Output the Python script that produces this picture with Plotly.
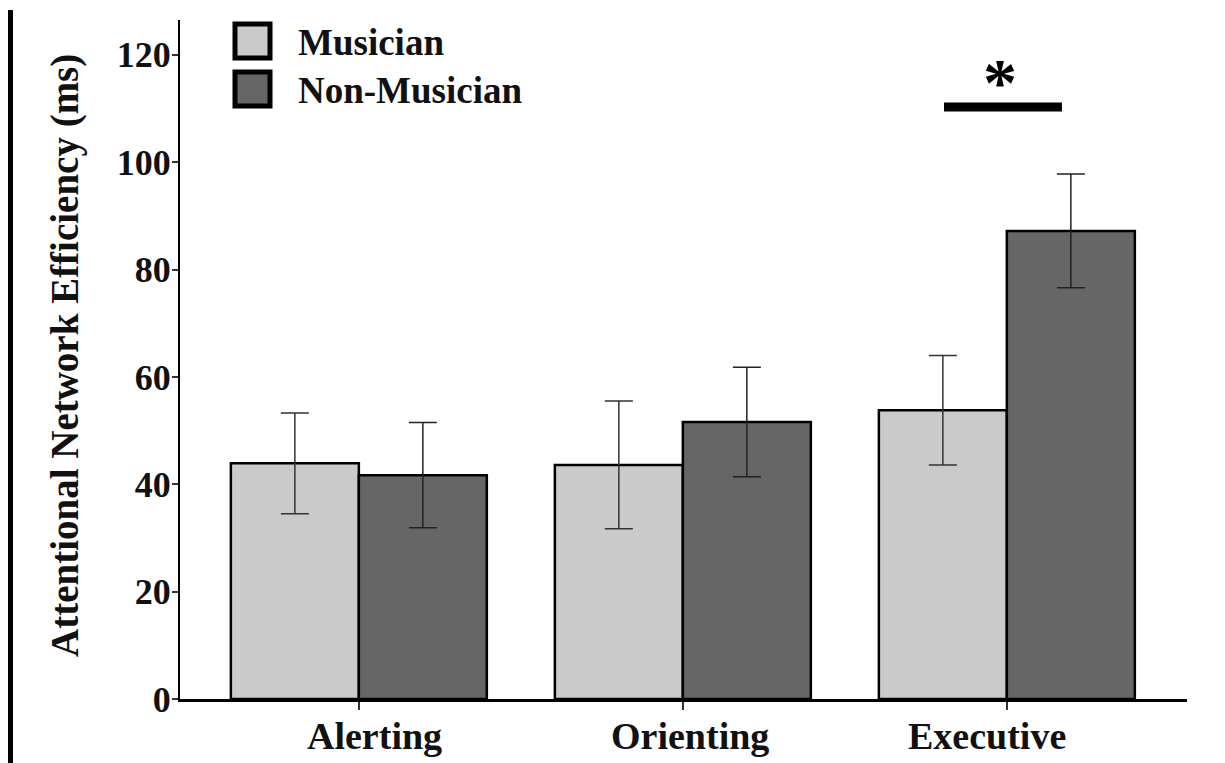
import plotly.graph_objects as go

categories = ["Alerting", "Orienting", "Executive"]
musician = [43.9, 43.6, 53.8]
musician_err = [9.4, 11.9, 10.2]
non_musician = [41.7, 51.6, 87.2]
non_musician_err = [9.8, 10.2, 10.6]
y_ticks = [0, 20, 40, 60, 80, 100, 120]
series_names = ["Musician", "Non-Musician"]
light = "#cacaca"
dark = "#666666"
FONT = "Liberation Serif"

fig = go.Figure()
fig.add_trace(go.Bar(
    x=categories, y=musician, name=series_names[0],
    marker=dict(color=light, line=dict(color="black", width=2.5)),
    error_y=dict(type="data", array=musician_err, color="#333333", thickness=1.5, width=14),
))
fig.add_trace(go.Bar(
    x=categories, y=non_musician, name=series_names[1],
    marker=dict(color=dark, line=dict(color="black", width=2.5)),
    error_y=dict(type="data", array=non_musician_err, color="#222222", thickness=1.5, width=14),
))

OFF = 8  # page body margin
PAGE_W, PAGE_H = 1225, 763
W, H = PAGE_W - OFF, PAGE_H - OFF
PL, PR, PT, PB = 180, 1187, 20, 699
L = PL - OFF
T = PT - OFF
R = W + OFF - PR
B = H + OFF - PB
pw = PR - PL
ph = PB - PT

def px_x(p):
    return (p - PL) / pw

def px_y(p):
    return (PB - p) / ph

shapes = []
shapes.append(dict(type="line", xref="x", yref="y", x0=1.806, x1=2.17, y0=110.3, y1=110.3,
                   line=dict(color="black", width=9)))
shapes.append(dict(type="line", xref="paper", yref="paper", x0=px_x(10.5), x1=px_x(10.5),
                   y0=px_y(10), y1=px_y(PAGE_H + 10), line=dict(color="black", width=5)))
shapes.append(dict(type="line", xref="paper", yref="paper", x0=px_x(1221), x1=px_x(1221),
                   y0=px_y(-5), y1=px_y(PAGE_H + 10), line=dict(color="black", width=1.5)))
for (y0, y1), col in zip([(22, 60), (70, 108)], [light, dark]):
    shapes.append(dict(type="rect", xref="paper", yref="paper",
                       x0=px_x(235), x1=px_x(270), y0=px_y(y1 - 2), y1=px_y(y0 + 2),
                       fillcolor=col, line=dict(color="black", width=5)))

annotations = []
for name, yc in zip(series_names, [43, 91]):
    annotations.append(dict(xref="paper", yref="paper", x=px_x(296), y=px_y(yc),
                            text="<b>%s</b>" % name, showarrow=False, xanchor="left",
                            yanchor="middle", font=dict(family=FONT, size=37, color="#111")))
annotations.append(dict(xref="x", yref="y", x=1.98, y=115.0, text="<b>*</b>", showarrow=False,
                        xanchor="center", yanchor="middle",
                        font=dict(family=FONT, size=68, color="black")))
annotations.append(dict(xref="paper", yref="paper", x=px_x(65), y=px_y(356),
                        text="<b>Attentional Network Efficiency (ms)</b>", showarrow=False,
                        textangle=-90, xanchor="center", yanchor="middle",
                        font=dict(family=FONT, size=39, color="#111")))
for cat, cx in zip(categories, [374, 690, 987]):
    annotations.append(dict(xref="paper", yref="paper", x=px_x(cx), y=px_y(736),
                            text="<b>%s</b>" % cat, showarrow=False, xanchor="center",
                            yanchor="middle", font=dict(family=FONT, size=38, color="#111")))

fig.update_layout(
    width=W, height=H,
    margin=dict(l=L, r=R, t=T, b=B, pad=0),
    paper_bgcolor="white", plot_bgcolor="white",
    barmode="group", bargap=0.21, bargroupgap=0,
    showlegend=False,
    shapes=shapes, annotations=annotations,
    font=dict(family=FONT, color="#111"),
)
fig.update_xaxes(
    range=[-0.552, 2.556], showgrid=False, zeroline=False,
    showline=True, linecolor="black", linewidth=2.5,
    ticks="outside", ticklen=8, tickwidth=1.5, tickcolor="#333",
    tickvals=categories, showticklabels=False,
)
fig.update_yaxes(
    range=[0, 126.5], showgrid=False, zeroline=False,
    showline=True, linecolor="black", linewidth=2,
    ticks="outside", ticklen=6, tickwidth=1.5, tickcolor="#333",
    tickvals=y_ticks, ticktext=["<b>%d</b>" % v for v in y_ticks],
    tickfont=dict(family=FONT, size=36, color="#111"),
    ticklabelstandoff=-6,
)

fig.write_html("out.html")
